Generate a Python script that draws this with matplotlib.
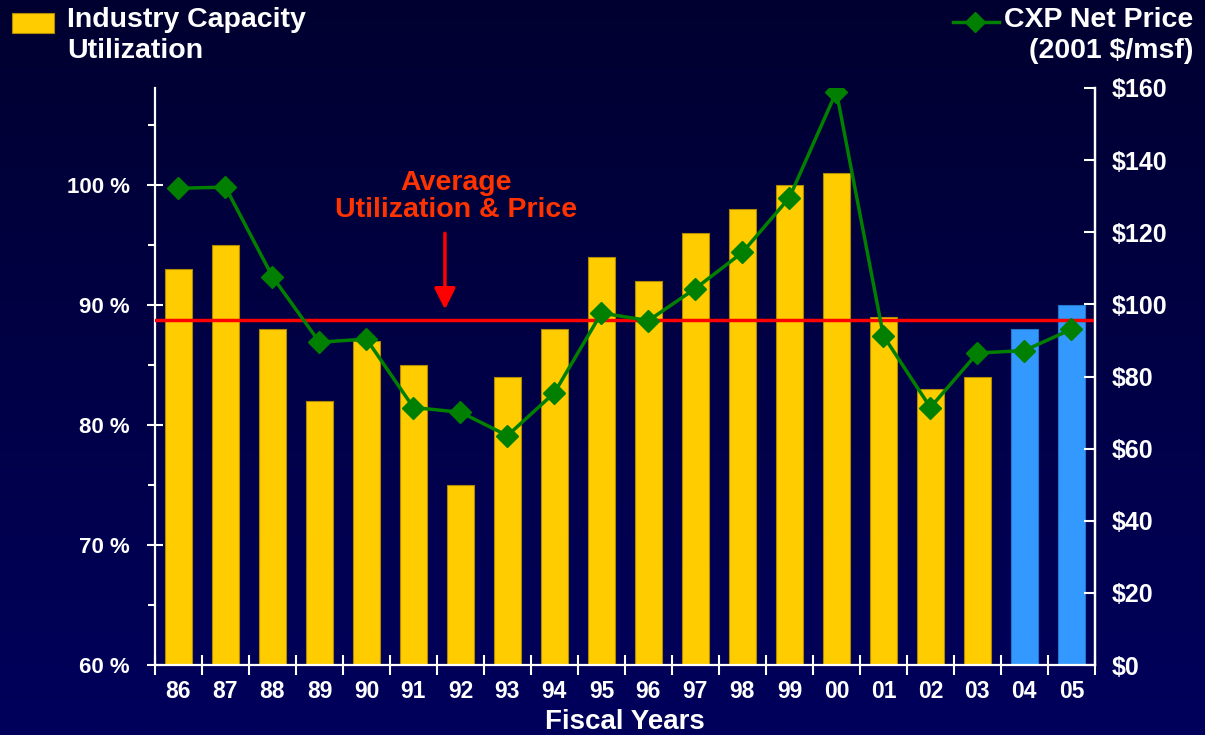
import numpy as np
import matplotlib
matplotlib.use("Agg")
import matplotlib.pyplot as plt
from matplotlib.patches import Rectangle
from matplotlib.lines import Line2D

plt.rcParams['font.family'] = ['Liberation Sans', 'DejaVu Sans']
plt.rcParams['font.weight'] = 'bold'

# data
years = ['86', '87', '88', '89', '90', '91', '92', '93', '94', '95',
         '96', '97', '98', '99', '00', '01', '02', '03', '04', '05']
utilization = [93, 95, 88, 82, 87, 85, 75, 84, 88, 94,
               92, 96, 98, 100, 101, 89, 83, 84, 88, 90]
price = [132.2, 132.5, 107.7, 89.5, 90.4, 71.4, 70.1, 63.6, 75.5, 97.6,
         95.5, 104.4, 114.4, 129.6, 159.0, 91.3, 71.4, 86.5, 87.2, 93.1]
forecast = ['04', '05']
avg_util = 88.75
util_ticks = [60, 70, 80, 90, 100]
price_ticks = [0, 20, 40, 60, 80, 100, 120, 140, 160]

yellow = '#FFCC00'
blue = '#3399FF'
green = '#007F00'
white = 'white'

fig = plt.figure(figsize=(12.05, 7.35), dpi=100)

# navy gradient background
bg = fig.add_axes([0, 0, 1, 1], zorder=-10)
grad = np.linspace(0, 1, 256).reshape(-1, 1)
top_c = np.array([0x00, 0x00, 0x30]) / 255
bot_c = np.array([0x00, 0x00, 0x5C]) / 255
img = top_c + (bot_c - top_c) * grad
bg.imshow(img[:, None, :].repeat(2, axis=1), aspect='auto', extent=[0, 1, 0, 1])
bg.axis('off')

ax = fig.add_axes([0.1286, 0.0952, 0.78, 0.7851])
ax.set_facecolor('none')
x = np.arange(len(years))
colors = [blue if y in forecast else yellow for y in years]
edges = ['#2277CC' if y in forecast else '#B08A00' for y in years]
ax.bar(x, utilization, width=0.57, color=colors, edgecolor=edges, linewidth=0.8,
       bottom=0, zorder=2)
ax.set_ylim(60, 108.08)
ax.set_xlim(-0.5, len(years) - 0.5)
ax.axhline(avg_util, color='#FF0000', lw=2.5, zorder=3)

ax.set_yticks(util_ticks)
ax.set_yticklabels([f'{v} %' for v in util_ticks])
ax.set_yticks(np.arange(65, 108, 10), minor=True)
ax.set_xticks(x)
ax.set_xticklabels(years)
ax.set_xticks(np.arange(-0.5, len(years), 1), minor=True)

for s in ['top']:
    ax.spines[s].set_visible(False)
for s in ['left', 'bottom', 'right']:
    ax.spines[s].set_color(white)
    ax.spines[s].set_linewidth(1.6)

ax.tick_params(axis='x', which='major', length=0, pad=11, labelsize=16.5, colors=white)
ax.tick_params(axis='x', which='minor', length=14, direction='inout', width=1.5, color=white)
ax.tick_params(axis='y', which='major', length=12, direction='inout', width=1.5,
               color=white, labelcolor=white, labelsize=16, pad=12)
ax.tick_params(axis='y', which='minor', length=5, direction='out', width=1.5, color=white)
ax.set_xlabel('Fiscal Years', color=white, fontsize=20, fontweight='bold', labelpad=4)

ax2 = ax.twinx()
ax2.plot(x, price, color=green, lw=2.5, marker='D', markersize=11, zorder=4)
ax2.set_ylim(0, 160)
ax2.set_yticks(price_ticks)
ax2.set_yticklabels([f'${v}' for v in price_ticks])
ax2.tick_params(axis='y', length=8, direction='in', width=1.5, color=white,
                labelcolor=white, labelsize=18, pad=12)
for s in ['top', 'left', 'bottom']:
    ax2.spines[s].set_visible(False)
ax2.spines['right'].set_color(white)
ax2.spines['right'].set_linewidth(1.6)

# annotation
ax.text(5.9, 99.0, 'Average\nUtilization & Price', color='#FF3300', fontsize=20.5,
        ha='center', va='center', linespacing=1.05, zorder=5)
ax.annotate('', xy=(5.67, 89.4), xytext=(5.67, 96.2),
            arrowprops=dict(arrowstyle='-|>', color='#FF0000', lw=2.5,
                            mutation_scale=32), zorder=5)

# legends drawn at the top of the figure
fig.patches.append(Rectangle((12 / 1205, 1 - 33 / 735), 42 / 1205, 20 / 735,
                             transform=fig.transFigure, facecolor=yellow,
                             edgecolor='#B08A00', lw=0.8))
fig.text(67 / 1205, 1 - 7 / 735, 'Industry Capacity\nUtilization', color=white,
         fontsize=20.5, ha='left', va='top', linespacing=1.25)
fig.lines.append(Line2D([953 / 1205, 975 / 1205, 999 / 1205], [1 - 22 / 735] * 3,
                        transform=fig.transFigure, color=green, lw=2.5,
                        marker='D', markersize=10, markevery=[1]))
fig.text(1193 / 1205, 1 - 7 / 735, 'CXP Net Price\n(2001 $/msf)', color=white,
         fontsize=20.5, ha='right', va='top', linespacing=1.25)

fig.savefig('out.png', dpi=100)
